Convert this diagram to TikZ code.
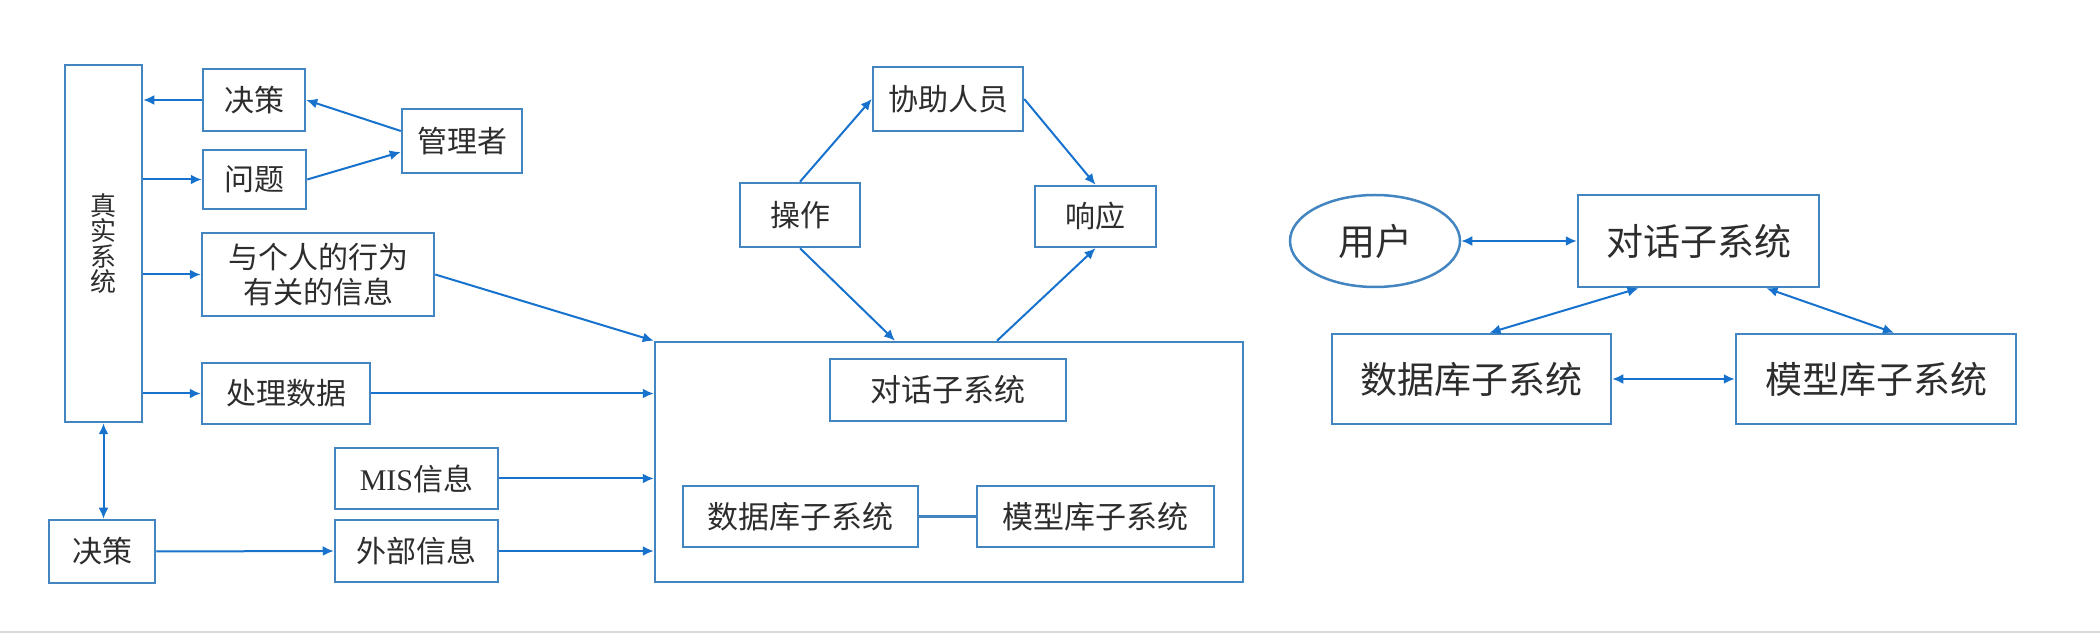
\documentclass[tikz,border=0pt]{standalone}
\usepackage{fontspec}
\newfontfamily\cjk{Noto Sans CJK SC}
\newfontfamily\latin{Liberation Serif}
\usetikzlibrary{arrows.meta,calc,shapes.geometric}
\definecolor{boxblue}{RGB}{66,133,193}
\definecolor{lineblue}{RGB}{22,114,204}
\definecolor{inkgray}{RGB}{45,45,45}

\begin{document}
\begin{tikzpicture}[x=0.5pt,y=-0.5pt,
    every node/.style={text=inkgray},
    box/.style n args={2}{draw=boxblue, line width=1.25pt, inner sep=0pt, align=center,
        minimum width=#1*0.5pt, minimum height=#2*0.5pt, font=\cjk\fontsize{15}{17.5}\selectfont},
    inner/.style={font=\cjk\fontsize{15.5}{18}\selectfont},
    big/.style={font=\cjk\fontsize{18.5}{22}\selectfont},
    flow/.style={lineblue, line width=1pt, -{Latex[length=5.5pt,width=5pt]}},
    twoway/.style={lineblue, line width=1pt, {Latex[length=5.5pt,width=5pt]}-{Latex[length=5.5pt,width=5pt]}}]
\useasboundingbox (0,0) rectangle (2100,640);

% left part
\node[box={77}{357}, font=\cjk\fontsize{13}{12.75}\selectfont] (real) at (103.5,243.5) {真\\实\\系\\统};
\node[box={102}{62}] (dec1) at (254,100) {决策};
\node[box={120}{64}] (mgr) at (462,141) {管理者};
\node[box={103}{59}] (prob) at (254.5,179.5) {问题};
\node[box={232}{83}] (info) at (318,274.5) {与个人的行为\\有关的信息};
\node[box={168}{61}] (proc) at (286,393.5) {处理数据};
\node[box={163}{61}] (mis) at (416.5,478.5) {{\latin MIS}信息};
\node[box={163}{62}] (ext) at (416.5,551) {外部信息};
\node[box={106}{63}] (dec2) at (102,551.5) {决策};

% middle part
\node[box={588}{240}] (dss) at (949,462) {};
\node[box={236}{62}, inner] (dlg) at (948,390) {对话子系统};
\node[box={235}{61}, inner] (db) at (800.5,516.5) {数据库子系统};
\node[box={237}{61}, inner] (mb) at (1095.5,516.5) {模型库子系统};
\node[box={120}{64}] (op) at (800,215) {操作};
\node[box={150}{64}] (help) at (948,99) {协助人员};
\node[box={121}{61}] (resp) at (1095.5,216.5) {响应};

% right part
\node[draw=boxblue, ellipse, line width=1.25pt, inner sep=0pt, minimum width=85pt, minimum height=46pt, big] (user) at (1375,241) {用户};
\node[box={241}{92}, big] (dlgR) at (1698.5,241) {对话子系统};
\node[box={279}{90}, big] (dbR) at (1471.5,379) {数据库子系统};
\node[box={280}{90}, big] (mbR) at (1876,379) {模型库子系统};

\draw[flow] (dec1.west) -- (dec1.west -| real.east);
\draw[flow] ($(mgr.west)+(0,-10)$) -- (dec1.east);
\draw[flow] (prob.east) -- ($(mgr.west)+(0,11)$);
\foreach \n in {prob,info,proc}
    \draw[flow] (\n.west -| real.east) -- (\n.west);
\draw[flow] (info.east) -- (dss.north west);
\foreach \n in {proc,mis,ext}
    \draw[flow] (\n.east) -- (\n.east -| dss.west);
\draw[flow] (dec2.east) -- (ext.west);
\draw[twoway] (real.south) -- (real.south |- dec2.north);

\draw[flow] (op.north) -- (help.west);
\draw[flow] (help.east) -- (resp.north);
\draw[flow] (op.south) -- ($(dss.north)+(-54,0)$);
\draw[flow] ($(dss.north)+(48,0)$) -- (resp.south);
\draw[boxblue, line width=1.25pt] (db.east) -- (mb.west);

\draw[twoway] (user.east) -- (dlgR.west);
\draw[twoway] ($(dlgR.south)+(-60,0)$) -- ($(dbR.north)+(18,0)$);
\draw[twoway] ($(dlgR.south)+(68,0)$) -- ($(mbR.north)+(18,0)$);
\draw[twoway] (dbR.east) -- (mbR.west);

\draw[gray!30, line width=0.75pt] (0,632) -- (2100,632);
\end{tikzpicture}
\end{document}
